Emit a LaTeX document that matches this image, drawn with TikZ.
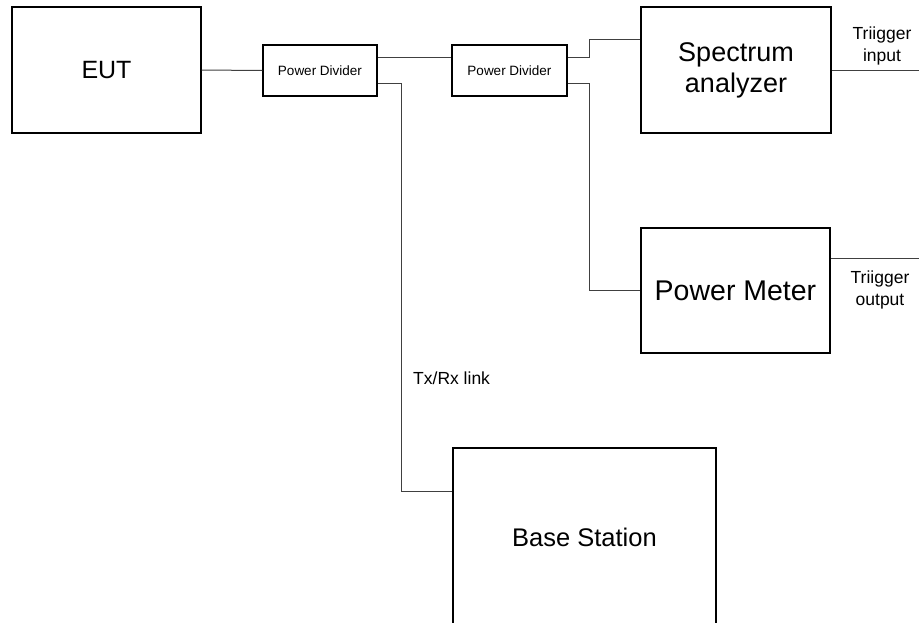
\documentclass[tikz,border=0pt]{standalone}
\usepackage{fontspec}
\setmainfont{Liberation Sans}
\begin{document}
\begin{tikzpicture}[x=1pt,y=-1pt,
  bigbox/.style={draw=black,line width=1.2pt,inner sep=0pt,font=\fontsize{27}{31}\selectfont,align=center},
  pdbox/.style={draw=black,line width=1.2pt,inner sep=0pt,minimum width=114pt,minimum height=51pt,font=\fontsize{13.5}{15}\selectfont},
  wire/.style={draw=black!75,line width=1pt},
  lbl/.style={font=\fontsize{17.5}{21.5}\selectfont,align=center,inner sep=0pt}]
\clip (0,0) rectangle (919,622);
\fill[white] (0,0) rectangle (919,622);
\node[bigbox,minimum width=189pt,minimum height=126pt,font=\fontsize{25}{30}\selectfont] (EUT) at (106.5,70) {EUT};
\node[pdbox] (PD1) at (320,70.5) {Power Divider};
\node[pdbox,minimum width=115pt] (PD2) at (509.5,70.5) {Power Divider};
\node[bigbox,minimum width=190pt,minimum height=126pt] (SA) at (736,70) {Spectrum\\analyzer};
\node[bigbox,minimum width=189pt,minimum height=125pt,font=\fontsize{28.5}{32}\selectfont] (PM) at (735.5,290.5) {Power Meter};
\node[bigbox,minimum width=263pt,minimum height=252pt] (BS) at (584.5,574) {};
\node[font=\fontsize{25.5}{30}\selectfont,inner sep=0pt] (BSt) at (584.5,537) {Base Station};
\coordinate (trigin) at (919,70);
\coordinate (trigout) at (919,258);
\draw[wire] (EUT.east) -- (PD1.west);
\draw[wire] ([yshift=13.5pt]PD1.east) -- ([yshift=13.5pt]PD2.west);
\draw[wire] ([yshift=-12.5pt]PD1.east) -- ++(24,0) |- ([yshift=-44pt]BS.north west);
\draw[wire] ([yshift=13.5pt]PD2.east) -- ++(22,0) |- ([yshift=31pt]SA.west);
\draw[wire] ([yshift=-12.5pt]PD2.east) -- ++(22,0) |- (PM.west);
\draw[wire] (SA.east) -- (trigin);
\draw[wire] ([yshift=32.5pt]PM.east) -- (trigout);
\node[lbl] (ti) at (882,46) {Triigger\\input};
\node[lbl] (to) at (880,290) {Triigger\\output};
\node[lbl,anchor=west] (txrx) at (413,378) {Tx/Rx link};
\end{tikzpicture}
\end{document}
